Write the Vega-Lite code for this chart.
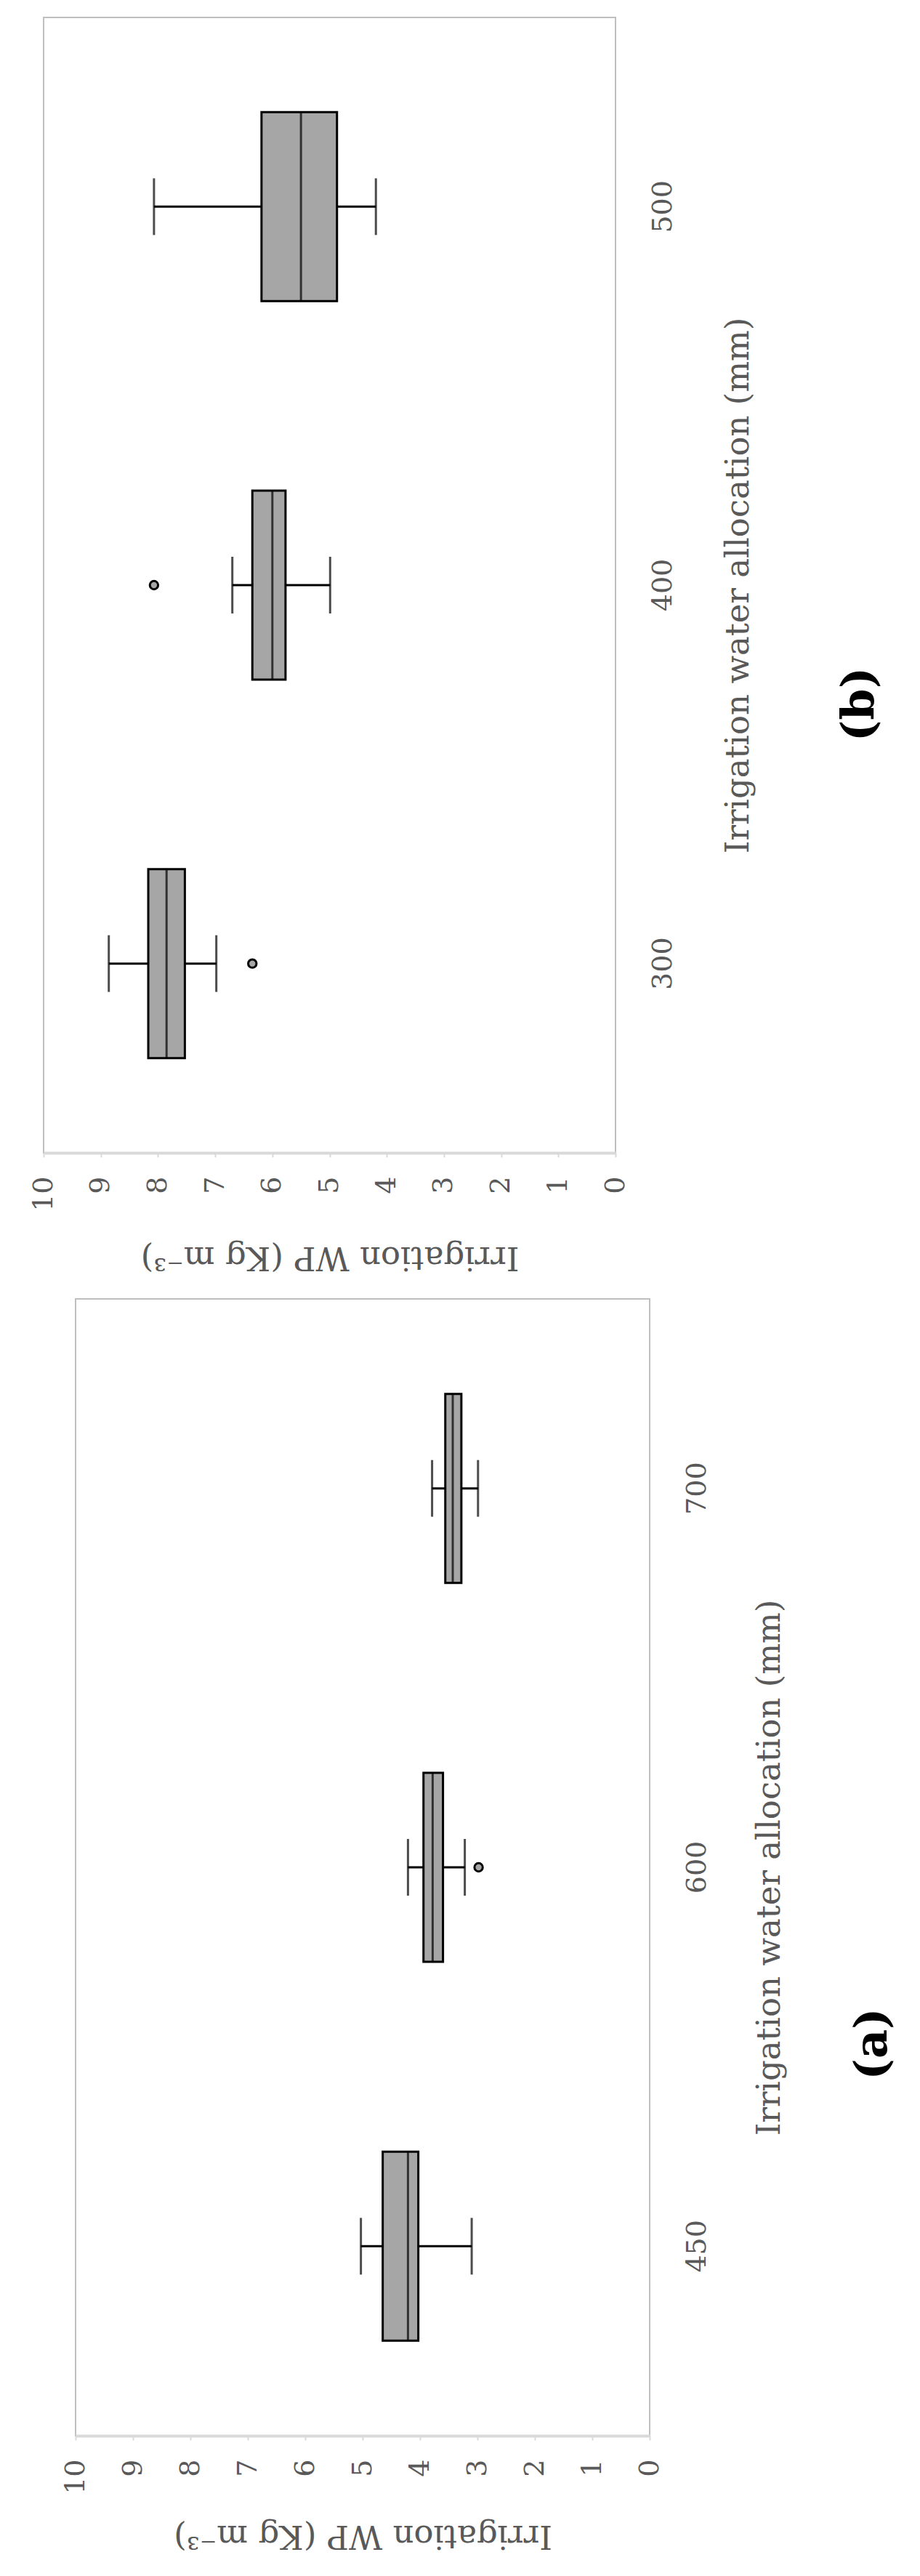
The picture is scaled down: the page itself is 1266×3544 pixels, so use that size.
{
  "$schema": "https://vega.github.io/schema/vega-lite/v6.json",
  "padding": {"left": 40, "top": 23, "right": 5, "bottom": 5},
  "background": "white",
  "config": {
    "font": "DejaVu Serif",
    "view": {"stroke": "#BFBFBF", "strokeWidth": 2},
    "axis": {"labelColor": "#595959", "titleColor": "#595959", "labelFont": "DejaVu Serif", "titleFont": "DejaVu Serif", "titleFontWeight": "normal", "labelFontSize": 38, "titleFontSize": 45, "grid": false},
    "title": {"font": "DejaVu Serif"}
  },
  "datasets": {
    "b": [
      {"alloc": "500", "lower": 4.19, "q1": 4.87, "median": 5.50, "q3": 6.19, "upper": 8.07},
      {"alloc": "400", "lower": 4.99, "q1": 5.77, "median": 6.00, "q3": 6.35, "upper": 6.70},
      {"alloc": "300", "lower": 6.98, "q1": 7.53, "median": 7.85, "q3": 8.17, "upper": 8.86}
    ],
    "b_out": [
      {"alloc": "400", "wp": 8.07},
      {"alloc": "300", "wp": 6.35}
    ],
    "a": [
      {"alloc": "700", "lower": 2.99, "q1": 3.28, "median": 3.43, "q3": 3.56, "upper": 3.79},
      {"alloc": "600", "lower": 3.22, "q1": 3.60, "median": 3.78, "q3": 3.94, "upper": 4.21},
      {"alloc": "450", "lower": 3.10, "q1": 4.03, "median": 4.21, "q3": 4.65, "upper": 5.03}
    ],
    "a_out": [
      {"alloc": "600", "wp": 2.98}
    ]
  },
  "bounds": "flush",
  "spacing": 201,
  "vconcat": [
    {
      "title": {"text": "(b)", "orient": "right", "angle": 270, "baseline": "top", "fontSize": 62, "fontWeight": "bold", "color": "black", "offset": 53, "dx": -164},
      "width": 787,
      "height": 1562,
      "data": {"name": "b"},
      "encoding": {
        "y": {"field": "alloc", "type": "nominal", "sort": ["500", "400", "300"], "scale": {"paddingInner": 0, "paddingOuter": 0},
          "axis": {"orient": "right", "title": "Irrigation water allocation (mm)", "domain": false, "ticks": false, "labelAngle": 270, "labelAlign": "center", "labelBaseline": "top", "labelPadding": 46, "titleAngle": 270, "titleBaseline": "top", "titlePadding": 62}}
      },
      "layer": [
        {"mark": {"type": "rule", "stroke": "black", "strokeWidth": 3},
          "encoding": {
            "x": {"field": "lower", "type": "quantitative", "title": "Irrigation WP (Kg m⁻³)", "scale": {"domain": [0, 10], "reverse": true, "nice": false},
              "axis": {"values": [0, 1, 2, 3, 4, 5, 6, 7, 8, 9, 10], "format": "d", "labelAngle": 270, "labelAlign": "right", "labelBaseline": "middle", "tickSize": 6, "tickColor": "#D9D9D9", "tickWidth": 2, "domainColor": "#D9D9D9", "domainWidth": 4, "labelPadding": 26, "labelFlush": false, "labelOverlap": false, "titleAngle": 180, "titleBaseline": "bottom", "titlePadding": 40}},
            "x2": {"field": "upper"}
          }},
        {"mark": {"type": "tick", "size": 78, "thickness": 3, "color": "black"},
          "encoding": {"x": {"field": "lower", "type": "quantitative", "title": "Irrigation WP (Kg m⁻³)"}}},
        {"mark": {"type": "tick", "size": 78, "thickness": 3, "color": "black"},
          "encoding": {"x": {"field": "upper", "type": "quantitative", "title": "Irrigation WP (Kg m⁻³)"}}},
        {"mark": {"type": "bar", "size": 260, "fill": "#A6A6A6", "stroke": "black", "strokeWidth": 3, "orient": "horizontal"},
          "encoding": {"x": {"field": "q1", "type": "quantitative", "title": "Irrigation WP (Kg m⁻³)"}, "x2": {"field": "q3"}}},
        {"mark": {"type": "tick", "size": 260, "thickness": 3, "color": "black"},
          "encoding": {"x": {"field": "median", "type": "quantitative", "title": "Irrigation WP (Kg m⁻³)"}}},
        {"data": {"name": "b_out"},
          "mark": {"type": "point", "filled": true, "fill": "#A6A6A6", "stroke": "black", "strokeWidth": 3, "size": 130, "opacity": 1},
          "encoding": {"x": {"field": "wp", "type": "quantitative", "title": "Irrigation WP (Kg m⁻³)"}}}
      ]
    },
    {
      "spacing": 0,
      "hconcat": [
        {"width": 24, "height": 1, "data": {"values": [{}]}, "mark": {"type": "point", "opacity": 0}, "view": {"stroke": null}},
        {
          "title": {"text": "(a)", "orient": "right", "angle": 270, "baseline": "top", "fontSize": 62, "fontWeight": "bold", "color": "black", "offset": 28, "dx": -243},
          "width": 790,
          "height": 1564,
          "data": {"name": "a"},
          "encoding": {
            "y": {"field": "alloc", "type": "nominal", "sort": ["700", "600", "450"], "scale": {"paddingInner": 0, "paddingOuter": 0},
              "axis": {"orient": "right", "title": "Irrigation water allocation (mm)", "domain": false, "ticks": false, "labelAngle": 270, "labelAlign": "center", "labelBaseline": "top", "labelPadding": 46, "titleAngle": 270, "titleBaseline": "top", "titlePadding": 58}}
          },
          "layer": [
            {"mark": {"type": "rule", "stroke": "black", "strokeWidth": 3},
              "encoding": {
                "x": {"field": "lower", "type": "quantitative", "title": "Irrigation WP (Kg m⁻³)", "scale": {"domain": [0, 10], "reverse": true, "nice": false},
                  "axis": {"values": [0, 1, 2, 3, 4, 5, 6, 7, 8, 9, 10], "format": "d", "labelAngle": 270, "labelAlign": "right", "labelBaseline": "middle", "tickSize": 6, "tickColor": "#D9D9D9", "tickWidth": 2, "domainColor": "#D9D9D9", "domainWidth": 4, "labelPadding": 26, "labelFlush": false, "labelOverlap": false, "titleAngle": 180, "titleBaseline": "bottom", "titlePadding": 34}},
                "x2": {"field": "upper"}
              }},
            {"mark": {"type": "tick", "size": 78, "thickness": 3, "color": "black"},
              "encoding": {"x": {"field": "lower", "type": "quantitative", "title": "Irrigation WP (Kg m⁻³)"}}},
            {"mark": {"type": "tick", "size": 78, "thickness": 3, "color": "black"},
              "encoding": {"x": {"field": "upper", "type": "quantitative", "title": "Irrigation WP (Kg m⁻³)"}}},
            {"mark": {"type": "bar", "size": 260, "fill": "#A6A6A6", "stroke": "black", "strokeWidth": 3, "orient": "horizontal"},
              "encoding": {"x": {"field": "q1", "type": "quantitative", "title": "Irrigation WP (Kg m⁻³)"}, "x2": {"field": "q3"}}},
            {"mark": {"type": "tick", "size": 260, "thickness": 3, "color": "black"},
              "encoding": {"x": {"field": "median", "type": "quantitative", "title": "Irrigation WP (Kg m⁻³)"}}},
            {"data": {"name": "a_out"},
              "mark": {"type": "point", "filled": true, "fill": "#A6A6A6", "stroke": "black", "strokeWidth": 3, "size": 130, "opacity": 1},
              "encoding": {"x": {"field": "wp", "type": "quantitative", "title": "Irrigation WP (Kg m⁻³)"}}}
          ]
        }
      ]
    }
  ]
}
